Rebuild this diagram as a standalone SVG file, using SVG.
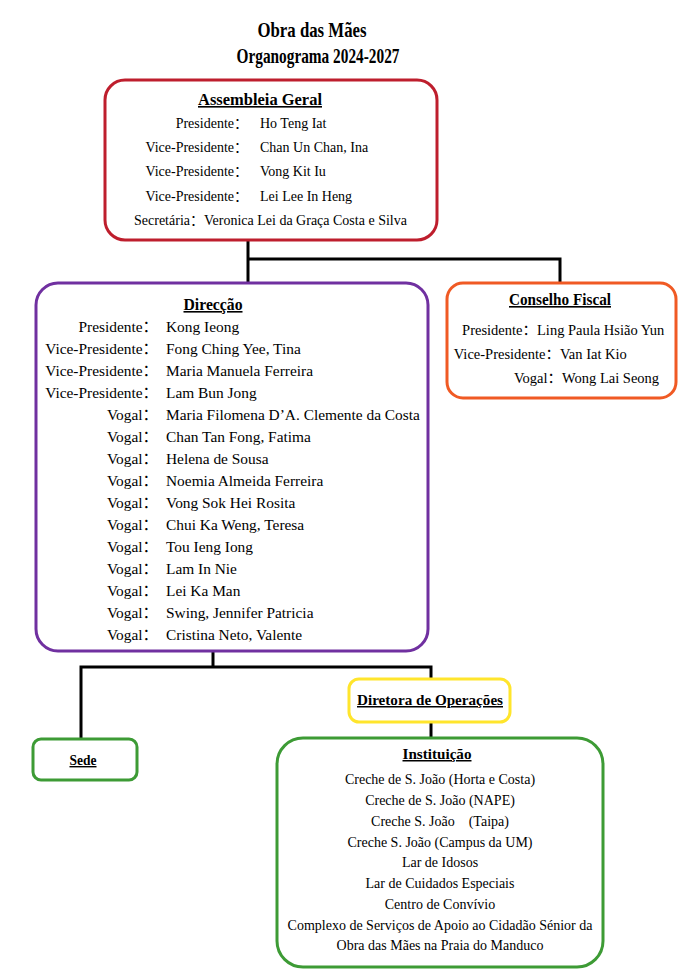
<svg xmlns="http://www.w3.org/2000/svg" width="693" height="980" viewBox="0 0 693 980">
<style>
.box{fill:#fff;stroke-width:3}
.t{font-family:"Liberation Serif","Noto Sans CJK SC",serif;fill:#000}
.h{font-family:"Liberation Serif","Noto Sans CJK SC",serif;font-weight:bold;text-decoration:underline;text-anchor:middle;fill:#000}
.title{font-family:"Liberation Serif",serif;font-weight:bold;text-anchor:middle;fill:#000}
.end{text-anchor:end}
.mid{text-anchor:middle}
.conn{fill:none;stroke:#000;stroke-width:3}
</style>
<rect width="693" height="980" fill="#fff"/>
<g id="title">
<text class="title" x="312" y="37" font-size="22" textLength="109" lengthAdjust="spacingAndGlyphs">Obra das Mães</text>
<text class="title" x="318" y="63" font-size="21" textLength="163" lengthAdjust="spacingAndGlyphs">Organograma 2024-2027</text>
</g>
<g id="connectors">
<polyline class="conn" points="248,240 248,283"/>
<polyline class="conn" points="248,259 560,259 560,283"/>
<polyline class="conn" points="213,651 213,667"/>
<polyline class="conn" points="81,739 81,667 431,667 431,679"/>
<polyline class="conn" points="431,722 431,738"/>
</g>
<g id="assembleia">
<rect class="box" x="105" y="80" width="332" height="160" rx="20" stroke="#BE1E2D"/>
<text class="h" x="260" y="105" font-size="16" textLength="124" lengthAdjust="spacingAndGlyphs">Assembleia Geral</text>
<g class="t" font-size="14">
<text class="end" x="248" y="128">Presidente：</text><text x="260" y="128">Ho Teng Iat</text>
<text class="end" x="248" y="152">Vice-Presidente：</text><text x="260" y="152">Chan Un Chan, Ina</text>
<text class="end" x="248" y="176">Vice-Presidente：</text><text x="260" y="176">Vong Kit Iu</text>
<text class="end" x="248" y="201">Vice-Presidente：</text><text x="260" y="201">Lei Lee In Heng</text>
<text class="end" x="204" y="225">Secretária：</text><text x="204" y="225">Veronica Lei da Graça Costa e Silva</text>
</g>
</g>
<g id="direccao">
<rect class="box" x="36" y="283" width="392" height="368" rx="22" stroke="#7030A0"/>
<text class="h" x="213" y="310" font-size="16" textLength="59" lengthAdjust="spacingAndGlyphs">Direcção</text>
<g class="t" font-size="15.4">
<text class="end" x="158" y="332">Presidente：</text><text x="166" y="332">Kong Ieong</text>
<text class="end" x="158" y="354">Vice-Presidente：</text><text x="166" y="354">Fong Ching Yee, Tina</text>
<text class="end" x="158" y="376">Vice-Presidente：</text><text x="166" y="376">Maria Manuela Ferreira</text>
<text class="end" x="158" y="398">Vice-Presidente：</text><text x="166" y="398">Lam Bun Jong</text>
<text class="end" x="158" y="420">Vogal：</text><text x="166" y="420">Maria Filomena D’A. Clemente da Costa</text>
<text class="end" x="158" y="442">Vogal：</text><text x="166" y="442">Chan Tan Fong, Fatima</text>
<text class="end" x="158" y="464">Vogal：</text><text x="166" y="464">Helena de Sousa</text>
<text class="end" x="158" y="486">Vogal：</text><text x="166" y="486">Noemia Almeida Ferreira</text>
<text class="end" x="158" y="508">Vogal：</text><text x="166" y="508">Vong Sok Hei Rosita</text>
<text class="end" x="158" y="530">Vogal：</text><text x="166" y="530">Chui Ka Weng, Teresa</text>
<text class="end" x="158" y="552">Vogal：</text><text x="166" y="552">Tou Ieng Iong</text>
<text class="end" x="158" y="574">Vogal：</text><text x="166" y="574">Lam In Nie</text>
<text class="end" x="158" y="596">Vogal：</text><text x="166" y="596">Lei Ka Man</text>
<text class="end" x="158" y="618">Vogal：</text><text x="166" y="618">Swing, Jennifer Patricia</text>
<text class="end" x="158" y="640">Vogal：</text><text x="166" y="640">Cristina Neto, Valente</text>
</g>
</g>
<g id="conselho">
<rect class="box" x="447" y="283" width="229" height="115" rx="16" stroke="#F05A24"/>
<text class="h" x="560" y="305" font-size="16" textLength="102" lengthAdjust="spacingAndGlyphs">Conselho Fiscal</text>
<g class="t" font-size="14.5">
<text class="end" x="537" y="335">Presidente：</text><text x="537" y="335">Ling Paula Hsião Yun</text>
<text class="end" x="560" y="359">Vice-Presidente：</text><text x="560" y="359">Van Iat Kio</text>
<text class="end" x="562" y="383">Vogal：</text><text x="562" y="383">Wong Lai Seong</text>
</g>
</g>
<g id="diretora">
<rect class="box" x="349" y="679" width="161" height="43" rx="10" stroke="#FFE52C"/>
<text class="h" x="430" y="705" font-size="15" textLength="146" lengthAdjust="spacingAndGlyphs">Diretora de Operações</text>
</g>
<g id="sede">
<rect class="box" x="33" y="739" width="104" height="41" rx="8" stroke="#3D9B35"/>
<text class="h" x="83" y="765" font-size="14" textLength="27" lengthAdjust="spacingAndGlyphs">Sede</text>
</g>
<g id="instituicao">
<rect class="box" x="277" y="738" width="326" height="229" rx="26" stroke="#3D9B35"/>
<text class="h" x="437" y="759" font-size="15" textLength="69" lengthAdjust="spacingAndGlyphs">Instituição</text>
<g class="t mid" font-size="14">
<text x="440" y="784">Creche de S. João (Horta e Costa)</text>
<text x="440" y="805">Creche de S. João (NAPE)</text>
<text x="440" y="826" xml:space="preserve">Creche S. João    (Taipa)</text>
<text x="440" y="847">Creche S. João (Campus da UM)</text>
<text x="440" y="867">Lar de Idosos</text>
<text x="440" y="888">Lar de Cuidados Especiais</text>
<text x="440" y="909">Centro de Convívio</text>
<text x="440" y="930">Complexo de Serviços de Apoio ao Cidadão Sénior da</text>
<text x="440" y="950">Obra das Mães na Praia do Manduco</text>
</g>
</g>
</svg>
